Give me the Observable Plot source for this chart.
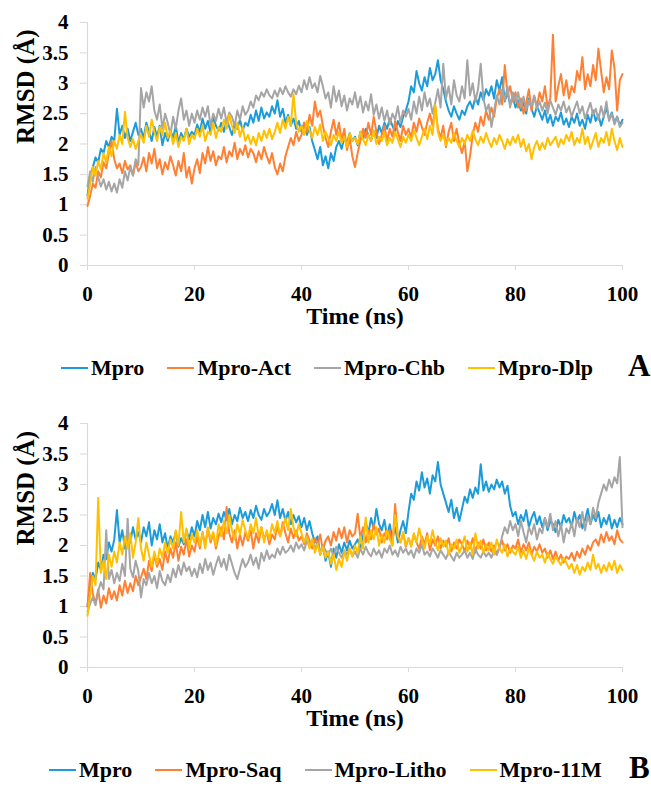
<!DOCTYPE html>
<html>
<head>
<meta charset="utf-8">
<script src="https://cdn.jsdelivr.net/npm/d3@7"></script>
<script src="https://cdn.jsdelivr.net/npm/@observablehq/plot@0.6"></script>
<style>
  body { margin: 0; background: #fff; }
  #wrap { position: relative; width: 651px; height: 787px; font-family: 'Liberation Serif', Tinos, 'Times New Roman', serif; font-weight: bold; color: #000; }
  .panel { position: absolute; left: 0; }
  .legend { position: absolute; left: 0; width: 651px; height: 30px; display: flex; align-items: center; gap: 23px; font-size: 22px; white-space: nowrap; }
  .item { display: flex; align-items: center; }
  .sw { display: inline-block; width: 27px; height: 2px; margin-right: 3px; }
  .tag { position: absolute; font-size: 31px; }
</style>
</head>
<body>
<div id="wrap"></div>
<script>
// ---- data (RMSD in Å, sampled every 0.5 ns from 0 to 100 ns) ----
const seriesA = ["Mpro", "Mpro-Act", "Mpro-Chb", "Mpro-Dlp"];
const seriesB = ["Mpro", "Mpro-Saq", "Mpro-Litho", "Mpro-11M"];
const colors = ["#1B9BD9", "#FF8033", "#A5A5A5", "#FFC000"];
const xTicks = [0, 20, 40, 60, 80, 100];
const yTicks = [0, 0.5, 1, 1.5, 2, 2.5, 3, 3.5, 4];

const A_Mpro = [1.15,1.45,1.62,1.78,1.70,1.92,1.85,2.05,1.95,2.12,
2.05,2.58,2.15,2.30,2.10,2.25,2.05,2.20,2.35,2.15,
2.25,2.10,2.35,2.20,2.05,2.28,2.12,2.30,1.98,2.18,
2.05,2.22,2.10,2.30,2.02,2.18,2.08,2.25,2.12,2.20,
2.15,2.32,2.20,2.42,2.25,2.38,2.18,2.45,2.30,2.22,
2.35,2.20,2.40,2.28,2.15,2.32,2.25,2.40,2.22,2.35,
2.30,2.48,2.35,2.55,2.38,2.60,2.42,2.52,2.45,2.62,
2.50,2.72,2.45,2.58,2.35,2.48,2.30,2.42,2.25,2.38,
2.20,2.35,2.15,2.28,2.05,1.90,1.75,1.95,1.65,1.80,
1.60,1.85,1.72,1.95,2.05,1.92,2.10,2.02,2.18,2.05,
2.12,1.98,2.20,2.08,2.25,2.15,2.05,2.22,2.10,2.30,
2.18,2.35,2.25,2.42,2.30,2.20,2.38,2.28,2.45,2.55,
2.70,2.95,2.85,3.20,3.00,2.88,3.10,2.95,3.25,3.05,
3.15,3.38,3.05,2.90,2.70,2.55,2.45,2.62,2.50,2.40,
2.55,2.48,2.62,2.70,2.58,2.78,2.65,2.85,2.72,2.90,
2.80,2.95,2.75,3.05,2.88,3.10,2.70,2.85,2.65,2.78,
2.60,2.72,2.55,2.68,2.50,2.75,2.58,2.45,2.62,2.52,
2.40,2.55,2.35,2.48,2.30,2.45,2.38,2.52,2.32,2.42,
2.28,2.45,2.35,2.50,2.30,2.40,2.25,2.48,2.35,2.55,
2.38,2.48,2.30,2.45,2.60,2.40,2.52,2.35,2.45,2.30,
2.40];
const A_Act = [0.98,1.15,1.35,1.28,1.55,1.45,1.70,1.60,1.85,2.05,
1.75,1.60,1.68,1.52,1.72,1.58,1.65,1.48,1.70,1.55,
1.62,1.78,1.55,1.85,1.68,1.92,1.60,1.75,1.50,1.70,
1.58,1.80,1.65,1.48,1.72,1.55,1.85,1.45,1.62,1.35,
1.60,1.75,1.52,1.85,1.68,1.95,1.72,1.88,1.65,1.80,
1.75,1.95,1.70,1.88,1.80,2.02,1.75,1.92,1.82,1.98,
1.78,1.92,1.85,1.70,1.88,1.75,1.95,1.80,1.68,1.85,
1.62,1.50,1.68,1.55,1.80,1.95,2.10,1.98,2.20,2.05,
2.15,2.35,2.20,2.48,2.30,2.70,2.45,2.55,2.30,2.10,
1.95,2.20,2.40,2.15,2.35,2.05,2.25,1.90,2.10,1.80,
1.62,1.85,2.05,2.25,2.10,2.35,2.15,2.45,2.20,2.00,
2.15,2.30,2.05,2.25,2.12,2.38,2.20,2.05,2.30,2.15,
2.25,2.10,2.35,2.20,2.42,2.28,2.15,2.35,2.50,2.30,
2.62,2.25,2.10,2.30,1.95,2.20,2.35,2.05,2.25,2.00,
1.85,2.05,1.55,1.80,2.15,2.35,2.20,2.45,2.30,2.55,
2.40,2.60,2.45,2.75,2.90,2.65,3.30,2.80,2.95,2.70,
2.85,2.60,2.75,2.50,2.68,2.90,2.55,2.78,2.62,2.85,
2.70,2.95,2.60,2.75,3.80,2.70,2.95,3.15,2.80,3.05,
2.75,2.95,2.85,3.20,3.05,3.43,2.90,3.15,2.95,3.30,
3.05,3.57,3.20,2.85,3.10,2.90,3.54,3.25,2.55,3.05,
3.15];
const A_Chb = [1.30,1.55,1.38,1.62,1.45,1.30,1.42,1.25,1.38,1.22,
1.35,1.20,1.42,1.28,1.55,1.40,1.62,1.48,1.75,1.65,
2.92,2.60,2.85,2.70,2.95,2.55,2.40,2.65,2.25,2.50,
2.35,2.15,2.45,2.25,2.55,2.75,2.40,2.55,2.30,2.50,
2.35,2.55,2.40,2.60,2.45,2.62,2.30,2.50,2.38,2.58,
2.42,2.60,2.35,2.52,2.45,2.30,2.55,2.40,2.62,2.48,
2.55,2.70,2.60,2.80,2.72,2.85,2.78,2.90,2.80,2.75,
2.88,2.78,2.92,2.82,2.95,2.85,2.78,2.90,2.82,2.96,
2.85,3.05,2.90,3.10,2.92,3.00,2.85,3.12,2.95,2.75,
2.85,2.60,2.95,2.70,2.88,2.62,2.80,2.55,2.75,2.65,
2.85,2.60,2.78,2.52,2.70,2.55,2.82,2.48,2.65,2.42,
2.60,2.38,2.55,2.32,2.50,2.40,2.62,2.35,2.55,2.45,
2.58,2.40,2.70,2.50,2.78,2.55,2.85,2.62,2.75,2.50,
2.68,2.90,2.60,3.32,2.75,2.95,2.65,3.05,2.80,2.70,
2.95,2.75,3.38,2.80,3.00,2.70,2.90,3.32,2.75,2.55,
2.65,2.28,2.55,2.80,2.65,2.90,2.72,2.95,2.60,2.85,
2.70,2.85,2.60,2.78,2.55,2.72,2.62,2.80,2.58,2.70,
2.55,2.68,2.50,2.72,2.60,2.48,2.65,2.55,2.70,2.52,
2.62,2.45,2.58,2.70,2.50,2.62,2.42,2.55,2.68,2.48,
2.58,2.40,2.62,2.45,2.70,2.38,2.50,2.32,2.45,2.28,
2.35];
const A_Dlp = [1.10,1.35,1.62,1.48,1.72,1.58,1.85,1.70,1.95,1.80,
2.05,1.92,2.15,2.00,2.53,2.10,1.95,2.08,1.92,2.05,
2.15,2.02,2.30,2.12,2.40,2.20,2.05,2.28,2.15,2.35,
2.10,2.22,2.00,2.18,1.95,2.12,2.05,2.25,2.00,2.15,
2.08,2.25,2.12,2.30,2.05,2.20,2.15,2.35,2.10,2.28,
2.20,2.40,2.25,2.48,2.30,2.18,2.35,2.12,2.28,2.05,
2.15,2.00,2.12,1.98,2.18,2.05,2.22,2.10,2.25,2.08,
2.20,2.35,2.18,2.40,2.25,2.45,2.30,2.82,2.35,2.20,
2.30,2.15,2.38,2.22,2.10,2.28,2.15,2.32,2.05,2.20,
2.10,1.98,2.15,2.05,2.20,2.02,2.12,1.95,2.18,2.05,
2.10,2.00,2.20,2.08,1.98,2.15,2.05,2.22,2.00,2.12,
2.05,2.18,1.98,2.10,2.02,2.20,2.08,1.95,2.12,2.02,
2.15,2.05,2.22,2.10,1.98,2.12,2.25,2.08,2.30,2.15,
2.64,2.20,2.05,2.15,1.98,2.10,2.02,2.18,2.05,1.95,
2.10,2.00,2.15,2.05,2.22,2.08,1.98,2.12,2.02,2.18,
2.05,1.95,2.10,2.00,2.15,2.05,1.92,2.08,1.98,2.12,
2.02,2.15,1.95,2.08,1.88,2.00,1.75,1.95,2.05,1.90,
2.02,1.92,2.10,1.98,2.05,2.12,1.95,2.08,2.00,2.15,
2.05,2.20,1.98,2.10,2.02,2.25,2.00,2.12,1.92,2.05,
2.18,1.95,2.10,2.02,2.20,1.98,2.25,2.05,1.90,2.10,
1.95];

const B_Mpro = [1.00,1.35,1.55,1.45,1.72,1.60,1.85,1.78,2.05,1.90,
2.10,2.58,2.05,2.25,1.95,2.18,2.05,2.30,2.10,2.22,
2.05,2.30,2.15,2.38,2.00,2.25,2.10,2.35,2.05,2.20,
1.95,2.15,2.05,2.22,1.98,2.12,2.02,2.25,2.10,2.30,
2.15,2.40,2.25,2.50,2.30,2.55,2.28,2.45,2.35,2.52,
2.38,2.55,2.42,2.60,2.35,2.50,2.40,2.62,2.45,2.55,
2.40,2.58,2.45,2.65,2.50,2.42,2.60,2.48,2.55,2.68,
2.50,2.74,2.45,2.60,2.40,2.55,2.35,2.50,2.38,2.48,
2.30,2.45,2.25,2.40,2.20,2.05,2.15,1.85,2.00,1.75,
1.90,1.65,1.95,1.80,2.02,1.88,2.05,1.92,2.08,1.95,
2.02,2.10,1.95,2.15,2.38,2.20,2.45,2.28,2.60,2.35,
2.25,2.42,2.15,2.35,2.10,2.30,2.05,2.25,2.40,2.20,
2.55,2.85,2.75,3.05,2.90,3.20,2.95,3.10,2.85,3.15,
3.05,3.37,3.00,2.85,2.70,2.55,2.75,2.45,2.62,2.40,
2.60,2.80,2.70,2.92,2.78,2.95,2.85,3.33,2.90,3.05,
2.88,3.00,2.92,3.08,2.95,3.05,2.85,2.98,2.65,2.48,
2.55,2.35,2.50,2.40,2.58,2.30,2.45,2.55,2.35,2.48,
2.30,2.45,2.25,2.40,2.35,2.22,2.42,2.30,2.50,2.38,
2.45,2.30,2.55,2.38,2.50,2.28,2.42,2.60,2.35,2.50,
2.40,2.55,2.30,2.45,2.35,2.50,2.28,2.42,2.30,2.45,
2.35];
const B_Saq = [1.00,1.55,1.20,1.05,1.28,0.98,1.18,1.05,1.30,1.12,
1.25,1.10,1.35,1.18,1.42,1.22,1.38,1.25,1.50,1.35,
1.48,1.62,1.45,1.75,1.58,1.85,1.65,1.78,1.60,1.90,
1.72,1.95,1.80,2.05,1.75,1.98,1.85,2.10,1.82,2.00,
1.90,2.15,1.95,2.22,2.00,2.28,2.05,2.20,1.95,2.15,
2.30,2.10,2.63,2.20,2.05,2.25,1.95,2.18,2.00,2.22,
2.08,2.25,1.95,2.20,2.05,2.30,2.10,2.22,2.02,2.18,
2.10,2.32,2.15,2.38,2.20,2.05,2.28,2.12,2.25,2.08,
2.15,2.02,2.20,2.08,1.95,2.12,2.00,2.18,1.92,2.08,
2.15,2.00,2.22,2.08,2.28,2.12,2.30,2.05,2.25,2.15,
2.20,2.52,2.12,2.30,2.05,2.25,2.10,2.35,2.18,2.28,
2.05,2.20,2.10,2.25,2.00,2.68,2.15,2.05,2.20,1.98,
2.12,2.00,2.18,2.05,1.95,2.15,2.02,2.20,1.92,2.10,
2.00,2.15,1.95,2.08,1.98,2.12,1.90,2.05,1.95,2.10,
2.02,1.90,2.08,1.95,2.12,1.88,2.05,1.95,2.10,1.92,
2.05,1.90,2.00,1.85,1.98,2.08,1.92,2.02,1.88,2.00,
1.95,2.10,1.88,2.02,1.92,2.05,1.85,1.98,1.90,2.02,
1.88,1.95,1.80,1.92,1.78,1.90,1.75,1.85,1.72,1.82,
1.78,1.88,1.75,1.90,1.80,1.95,1.85,2.00,1.92,2.05,
2.10,2.00,2.18,2.05,2.22,2.08,2.15,2.02,2.25,2.10,
2.05];
const B_Litho = [0.92,1.05,1.15,1.02,1.25,1.40,1.28,2.25,1.45,1.60,
1.38,1.55,1.42,1.70,1.50,2.44,1.62,1.48,1.75,1.58,
1.15,1.45,1.35,1.55,1.38,1.50,1.30,1.58,1.42,1.35,
1.52,1.40,1.62,1.48,1.68,1.52,1.72,1.58,1.65,1.50,
1.62,1.48,1.70,1.55,1.78,1.60,1.72,1.52,1.68,1.82,
1.65,1.78,1.60,1.85,1.70,1.55,1.45,1.62,1.78,1.65,
1.72,1.85,1.68,1.80,1.62,1.88,1.75,1.92,1.78,1.85,
1.80,1.95,1.85,1.98,1.88,1.92,2.00,1.90,2.05,1.95,
2.02,1.92,2.08,1.98,2.10,1.95,2.05,1.88,2.00,1.92,
1.85,1.95,1.82,1.98,1.88,1.80,1.92,1.85,1.95,1.82,
1.90,1.80,1.95,1.85,1.98,1.88,1.82,1.95,1.85,1.92,
1.80,1.95,1.88,2.00,1.85,1.92,1.82,1.98,1.88,1.95,
1.85,1.92,1.80,1.95,1.88,2.02,1.85,1.90,1.82,1.95,
1.88,1.80,1.92,1.85,1.78,1.90,1.82,1.75,1.88,1.80,
1.85,1.92,1.80,1.88,1.78,1.95,1.85,1.80,1.90,1.82,
1.88,1.80,1.92,1.85,1.95,2.15,2.30,2.20,2.40,2.25,
2.35,2.15,2.40,2.22,2.05,2.30,2.18,2.35,2.10,2.28,
2.20,2.45,2.30,2.52,2.25,2.40,2.15,2.35,2.05,2.28,
2.20,2.38,2.15,2.45,2.30,2.55,2.25,2.48,2.35,2.62,
2.45,2.70,2.85,3.00,2.90,3.08,2.95,3.12,3.02,3.45,
2.30];
const B_11M = [0.85,1.20,1.50,1.35,2.78,1.55,1.75,1.45,1.85,1.65,
1.90,1.72,2.05,1.85,2.15,1.95,2.20,1.80,2.05,2.45,
1.95,1.75,2.05,1.85,1.65,1.90,1.70,1.95,1.80,2.05,
1.88,2.10,1.95,2.25,2.00,2.55,2.05,2.28,1.95,2.18,
2.05,2.25,2.00,2.20,1.95,2.30,2.10,2.22,2.00,2.35,
2.15,2.40,2.20,2.50,2.25,2.10,2.35,2.18,2.42,2.25,
2.12,2.35,2.20,2.45,2.15,2.30,2.05,2.25,2.10,2.35,
2.20,2.40,2.15,2.30,2.45,2.25,2.60,2.30,2.15,2.35,
2.20,2.05,2.15,1.95,2.10,1.88,2.02,1.85,1.98,1.80,
1.90,1.70,1.85,1.60,1.78,1.65,1.90,1.75,1.95,1.82,
2.00,1.88,2.15,1.95,2.46,2.05,2.25,2.10,2.30,2.00,
2.18,2.05,2.25,2.10,2.00,2.50,2.15,2.05,2.22,2.00,
2.12,1.98,2.20,2.05,2.28,2.10,1.95,2.15,2.02,2.25,
2.05,1.92,2.12,1.98,2.08,1.85,2.02,1.95,2.10,1.88,
2.00,2.15,1.90,2.05,1.85,2.20,1.95,2.08,1.88,2.02,
1.92,2.05,1.85,2.10,1.95,1.88,2.02,1.82,1.95,1.90,
1.85,1.98,1.80,1.92,1.78,1.95,1.85,1.75,1.90,1.80,
1.85,1.72,1.88,1.78,1.70,1.82,1.75,1.68,1.80,1.72,
1.62,1.70,1.55,1.68,1.52,1.65,1.58,1.72,1.60,1.85,
1.62,1.70,1.55,1.68,1.58,1.72,1.60,1.75,1.55,1.68,
1.60];

const valuesA = [A_Mpro, A_Act, A_Chb, A_Dlp];
const valuesB = [B_Mpro, B_Saq, B_Litho, B_11M];
const step = 0.5; // ns between samples

function toRows(names, values) {
  const rows = [];
  names.forEach((name, k) => values[k].forEach((v, i) => rows.push({series: name, t: i * step, v})));
  return rows;
}

const FONT = "'Liberation Serif', Tinos, 'Times New Roman', serif";
const AXIS = "#D9D9D9";

function panel(names, values, height, top) {
  const rows = toRows(names, values);
  const svg = Plot.plot({
    width: 651,
    height,
    marginLeft: 87,
    marginRight: 29,
    marginTop: 22,
    marginBottom: 75,
    style: {fontFamily: FONT, fontWeight: "bold", fontSize: "21px", color: "#000", background: "transparent", overflow: "visible"},
    x: {domain: [0, 100], ticks: xTicks},
    y: {domain: [0, 4], ticks: yTicks},
    color: {domain: names, range: colors},
    marks: [
      Plot.axisX({ticks: xTicks, tickSize: 5, stroke: AXIS, text: null, label: null}),
      Plot.axisX({ticks: xTicks, tickSize: 0, tickPadding: 21, fontSize: 21, fill: "#000", label: null, tickFormat: d => String(d)}),
      Plot.axisY({ticks: yTicks, tickSize: 7, stroke: AXIS, text: null, label: null}),
      Plot.axisY({ticks: yTicks, tickSize: 0, tickPadding: 19, fontSize: 21, fill: "#000", label: null, tickFormat: d => String(d)}),
      Plot.ruleX([0], {stroke: AXIS, strokeWidth: 1.2}),
      Plot.ruleY([0], {stroke: AXIS, strokeWidth: 1.2}),
      Plot.line(rows, {x: "t", y: "v", z: "series", stroke: "series", strokeWidth: 2, curve: "linear"}),
      Plot.text(["Time (ns)"], {frameAnchor: "bottom", dy: 58, fontSize: 24, fontWeight: "bold", fill: "#000"}),
      Plot.text(["RMSD (Å)"], {frameAnchor: "left", dx: -62, rotate: -90, fontSize: 25, fontWeight: "bold", fill: "#000"})
    ]
  });
  svg.classList.add("panel");
  svg.style.top = top + "px";
  svg.querySelectorAll("text").forEach(t => t.style.fontFamily = FONT);
  return svg;
}

function legend(names, top, padLeft, tag, tagLeft) {
  const div = document.createElement("div");
  div.className = "legend";
  div.style.top = (top - 15) + "px";
  div.style.paddingLeft = padLeft + "px";
  names.forEach((name, k) => {
    const it = document.createElement("span");
    it.className = "item";
    const sw = document.createElement("span");
    sw.className = "sw";
    sw.style.background = colors[k];
    it.appendChild(sw);
    it.appendChild(document.createTextNode(name));
    div.appendChild(it);
  });
  const t = document.createElement("div");
  t.className = "tag";
  t.textContent = tag;
  t.style.left = tagLeft + "px";
  t.style.top = (top - 20) + "px";
  return [div, t];
}

const wrap = document.getElementById("wrap");
wrap.appendChild(panel(seriesA, valuesA, 340, 0));
wrap.appendChild(panel(seriesB, valuesB, 341, 401));
legend(seriesA, 368, 61, "A", 628).forEach(e => wrap.appendChild(e));
legend(seriesB, 770, 49, "B", 629).forEach(e => wrap.appendChild(e));
</script>
</body>
</html>
